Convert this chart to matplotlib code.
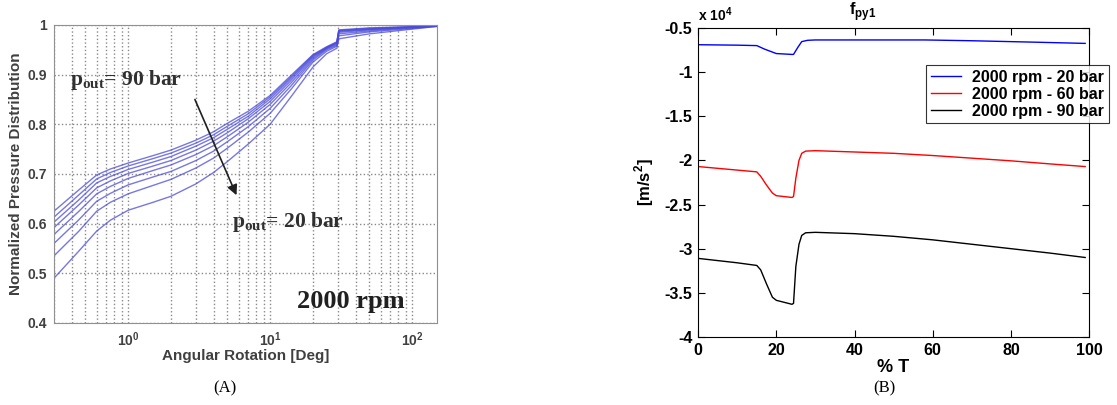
import matplotlib
matplotlib.use("Agg")
import matplotlib.pyplot as plt

# ---------------- Panel A data ----------------
angle_deg = [0.3, 0.45, 0.6, 0.75, 1.0, 1.5, 2.0, 3.0, 4.0, 5.0, 7.0, 10.0, 14.0, 20.0, 25.0, 29.5, 30.5, 50.0, 150.0]
pressures_bar = [20, 30, 40, 50, 60, 70, 80, 90]
npd_20 = [0.490, 0.545, 0.585, 0.607, 0.627, 0.643, 0.655, 0.680, 0.703, 0.725, 0.760, 0.800, 0.855, 0.915, 0.942, 0.953, 0.972, 0.982, 0.997]
npd_30 = [0.535, 0.585, 0.625, 0.643, 0.660, 0.677, 0.689, 0.712, 0.732, 0.752, 0.784, 0.822, 0.870, 0.925, 0.947, 0.957, 0.978, 0.986, 0.997]
npd_40 = [0.560, 0.608, 0.645, 0.661, 0.678, 0.694, 0.705, 0.727, 0.746, 0.765, 0.795, 0.832, 0.877, 0.929, 0.950, 0.959, 0.982, 0.988, 0.998]
npd_50 = [0.578, 0.625, 0.660, 0.675, 0.691, 0.707, 0.718, 0.739, 0.757, 0.775, 0.804, 0.840, 0.883, 0.932, 0.952, 0.961, 0.985, 0.990, 0.998]
npd_60 = [0.592, 0.638, 0.672, 0.686, 0.701, 0.716, 0.727, 0.748, 0.766, 0.783, 0.811, 0.846, 0.888, 0.935, 0.953, 0.963, 0.987, 0.991, 0.998]
npd_70 = [0.603, 0.648, 0.682, 0.695, 0.709, 0.724, 0.735, 0.756, 0.773, 0.790, 0.816, 0.851, 0.892, 0.937, 0.954, 0.964, 0.988, 0.992, 0.998]
npd_80 = [0.613, 0.658, 0.690, 0.703, 0.716, 0.731, 0.742, 0.762, 0.779, 0.796, 0.821, 0.855, 0.895, 0.939, 0.955, 0.965, 0.989, 0.993, 0.998]
npd_90 = [0.625, 0.668, 0.698, 0.710, 0.722, 0.737, 0.748, 0.768, 0.785, 0.802, 0.826, 0.858, 0.898, 0.940, 0.956, 0.966, 0.990, 0.994, 0.998]
npd_curves = [npd_20, npd_30, npd_40, npd_50, npd_60, npd_70, npd_80, npd_90]

# ---------------- Panel B data (units of 1e4 m/s^2) ----------------
pct_T_blue = [0, 10, 15, 17, 20, 24, 24.4, 25.5, 26.5, 28, 30, 45, 58, 70, 85, 99]
fpy1_20bar = [-0.69, -0.695, -0.70, -0.74, -0.79, -0.80, -0.80, -0.72, -0.655, -0.64, -0.636, -0.636, -0.636, -0.645, -0.66, -0.675]
pct_T = [0, 10, 15, 16, 17.5, 19, 20, 24, 24.4, 25, 25.8, 26.5, 27.5, 30, 40, 50, 60, 70, 80, 90, 99]
fpy1_60bar = [-2.07, -2.11, -2.13, -2.18, -2.28, -2.37, -2.40, -2.42, -2.41, -2.20, -2.00, -1.92, -1.895, -1.89, -1.905, -1.92, -1.945, -1.975, -2.005, -2.04, -2.07]
fpy1_90bar = [-3.11, -3.16, -3.19, -3.24, -3.40, -3.55, -3.585, -3.63, -3.62, -3.20, -2.95, -2.85, -2.82, -2.815, -2.83, -2.86, -2.90, -2.95, -3.00, -3.05, -3.10]
legend_labels = ["2000 rpm - 20 bar", "2000 rpm - 60 bar", "2000 rpm - 90 bar"]

fig = plt.figure(figsize=(11.17, 4.05), dpi=100)

# ================= Panel A =================
axA = fig.add_axes([0.0483, 0.2025, 0.343, 0.736])
for ys in npd_curves:
    axA.plot(angle_deg, ys, color='#4a4ad8', lw=1.0, alpha=0.75)
axA.set_xscale('log')
axA.set_xlim(0.3, 150)
axA.set_ylim(0.4, 1.0)
axA.set_yticks([0.4, 0.5, 0.6, 0.7, 0.8, 0.9, 1.0])
axA.set_yticklabels(['0.4', '0.5', '0.6', '0.7', '0.8', '0.9', '1'])
axA.grid(True, which='major', color='#8a8a8a', linestyle=':', linewidth=1.0)
axA.grid(True, which='minor', axis='x', color='#8a8a8a', linestyle=':', linewidth=1.0)
for s in axA.spines.values():
    s.set_color('#909090')
axA.tick_params(which='both', direction='in', length=0, colors='#404040', labelsize=10, pad=5)
for lab in axA.get_xticklabels() + axA.get_yticklabels():
    lab.set_fontweight('bold')
    lab.set_fontfamily('Liberation Sans')
axA.set_xlabel('Angular Rotation [Deg]', fontsize=11, fontweight='bold', color='#404040',
               family='Liberation Sans', labelpad=0)
axA.set_ylabel('Normalized Pressure Distribution', fontsize=11, fontweight='bold', color='#404040',
               family='Liberation Sans', labelpad=3)
axA.text(0.39, 0.889, r'p$_{\mathregular{out}}$= 90 bar', fontsize=15.5, fontweight='bold',
         family='Liberation Serif', color='#303030', va='center', ha='left')
axA.text(5.4, 0.603, r'p$_{\mathregular{out}}$= 20 bar', fontsize=15.5, fontweight='bold',
         family='Liberation Serif', color='#303030', va='center', ha='left')
axA.text(15.5, 0.443, '2000 rpm', fontsize=19, fontweight='bold',
         family='Liberation Serif', color='#202020', va='center', ha='left')
axA.annotate('', xy=(5.9, 0.652), xytext=(2.9, 0.855),
             arrowprops=dict(arrowstyle='-|>', color='#202020', lw=1.2, mutation_scale=15))
fig.text(0.2015, 0.042, '(A)', fontsize=12, family='Liberation Serif', ha='center', va='center')

# ================= Panel B =================
axB = fig.add_axes([0.625, 0.168, 0.350, 0.763])
axB.plot(pct_T_blue, fpy1_20bar, color='#0000ff', lw=1.0, label=legend_labels[0])
axB.plot(pct_T, fpy1_60bar, color='#ff0000', lw=1.0, label=legend_labels[1])
axB.plot(pct_T, fpy1_90bar, color='#000000', lw=1.0, label=legend_labels[2])
axB.set_xlim(0, 100)
axB.set_ylim(-4, -0.5)
axB.set_xticks([0, 20, 40, 60, 80, 100])
axB.set_yticks([-4, -3.5, -3, -2.5, -2, -1.5, -1, -0.5])
axB.set_yticklabels(['-4', '-3.5', '-3', '-2.5', '-2', '-1.5', '-1', '-0.5'])
axB.tick_params(direction='in', length=5, top=True, right=True, labelsize=11.5, width=0.8, pad=4)
for lab in axB.get_xticklabels() + axB.get_yticklabels():
    lab.set_fontweight('bold')
    lab.set_fontfamily('Liberation Sans')
for s in axB.spines.values():
    s.set_color('black')
    s.set_linewidth(0.8)
axB.set_xlabel('% T', fontsize=13, fontweight='bold', family='Liberation Sans', labelpad=1)
axB.set_ylabel(r'[m/s$^{\mathregular{2}}$]', fontsize=12, fontweight='bold', family='Liberation Sans', labelpad=6)
axB.text(0.0, 1.012, r'x 10$^{\mathregular{4}}$', transform=axB.transAxes, fontsize=10,
         fontweight='bold', family='Liberation Sans', ha='left', va='bottom')
axB.text(0.42, 1.015, r'f$_{\mathregular{py1}}$', transform=axB.transAxes, fontsize=12,
         fontweight='bold', family='Liberation Sans', ha='center', va='bottom')
leg = axB.legend(loc='upper left', bbox_to_anchor=(0.583, 0.880), borderaxespad=0, frameon=True,
                 fancybox=False, edgecolor='black', handlelength=1.9, handletextpad=0.7,
                 borderpad=0.3, labelspacing=0.12,
                 prop={'family': 'Liberation Sans', 'weight': 'bold', 'size': 11.5})
leg.get_frame().set_linewidth(0.8)
fig.text(0.792, 0.042, '(B)', fontsize=12, family='Liberation Serif', ha='center', va='center')

fig.savefig('out.png', dpi=100)
